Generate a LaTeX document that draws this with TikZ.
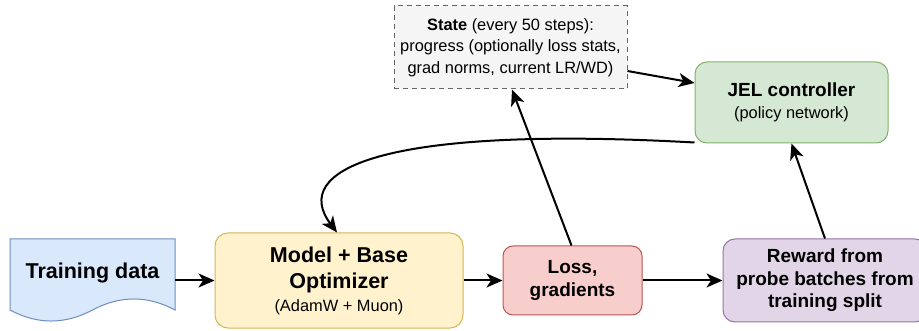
\documentclass[tikz,border=0pt]{standalone}
\usepackage{fontspec}
\setmainfont{Liberation Sans}
\usetikzlibrary{arrows.meta}
\definecolor{dataFill}{HTML}{DAE8FC}\definecolor{dataLine}{HTML}{6C8EBF}
\definecolor{modFill}{HTML}{FFF2CC}\definecolor{modLine}{HTML}{D6B656}
\definecolor{lossFill}{HTML}{F8CECC}\definecolor{lossLine}{HTML}{B85450}
\definecolor{rewFill}{HTML}{E1D5E7}\definecolor{rewLine}{HTML}{9673A6}
\definecolor{jelFill}{HTML}{D5E8D4}\definecolor{jelLine}{HTML}{82B366}
\definecolor{stFill}{HTML}{F5F5F5}\definecolor{stLine}{HTML}{666666}
\newcommand{\bigbf}{\fontsize{21.5}{26}\selectfont\bfseries}
\newcommand{\midbf}{\fontsize{19}{22.5}\selectfont\bfseries}
\newcommand{\smalltx}{\fontsize{16.4}{20}\selectfont\mdseries}
\tikzset{
  box/.style={draw, line width=1pt, align=center, inner sep=0pt, text=black},
  mid/.style={font=\midbf},
  conn/.style={line width=2pt, -{Stealth[length=16pt,width=14pt,inset=4.5pt]}},
}
\begin{document}
\begin{tikzpicture}[x=1pt,y=-1pt]
\useasboundingbox (0,0) rectangle (919,331);
% Training data document shape
\filldraw[fill=dataFill, draw=dataLine, line width=1pt]
  (10,239) -- (175,239) -- (175,310) .. controls (147.7,295.3) and (120,295.3) .. (92.5,310)
  .. controls (65,324.7) and (37.3,324.7) .. (10,310) -- cycle;
\node[inner sep=0pt, minimum width=165pt, minimum height=71pt, font=\bigbf] (data) at (92.5,274.5) {\raisebox{8.5pt}{Training data}};
% Model
\node[box, font=\bigbf, fill=modFill, draw=modLine, rounded corners=13pt, minimum width=248pt, minimum height=95pt] (model) at (339,280.5)
  {\bigbf Model + Base\\\bigbf Optimizer\\[-3pt]\smalltx (AdamW + Muon)};
% Loss
\node[box, mid, fill=lossFill, draw=lossLine, rounded corners=10pt, minimum width=139pt, minimum height=69pt] (loss) at (572.5,280.5) {Loss,\\gradients};
% Reward
\node[box, mid, fill=rewFill, draw=rewLine, rounded corners=12pt, minimum width=204pt, minimum height=83pt] (reward) at (825,280.5) {Reward from\\probe batches from\\training split};
% JEL
\node[box, font=\midbf, fill=jelFill, draw=jelLine, rounded corners=12pt, minimum width=193pt, minimum height=81pt] (jel) at (791.5,102.5)
  {\midbf JEL controller\\[-1pt]\smalltx (policy network)};
% State
\node[box, fill=stFill, draw=stLine, dashed, dash pattern=on 5pt off 4pt, minimum width=233pt, minimum height=83pt, font=\fontsize{16.4}{21.5}\selectfont] (state) at (510.5,47.5)
  {\textbf{State} (every 50 steps):\\progress (optionally loss stats,\\grad norms, current LR/WD)};
% connectors
\draw[conn] (data.east |- model.west) -- (model.west);
\draw[conn] (model.east) -- (loss.west);
\draw[conn] (loss.east) -- (reward.west);
\draw[conn] ([xshift=-1pt]loss.north) -- ([xshift=1.5pt]state.south);
\draw[conn] (reward.north) -- (jel.south);
\draw[conn] ([yshift=-23.5pt]state.east) -- ([yshift=19.5pt]jel.west);
\draw[conn] ([yshift=1pt]jel.south west) .. controls (380,125) and (290,170) .. ([xshift=-2pt]model.north);
\end{tikzpicture}
\end{document}
